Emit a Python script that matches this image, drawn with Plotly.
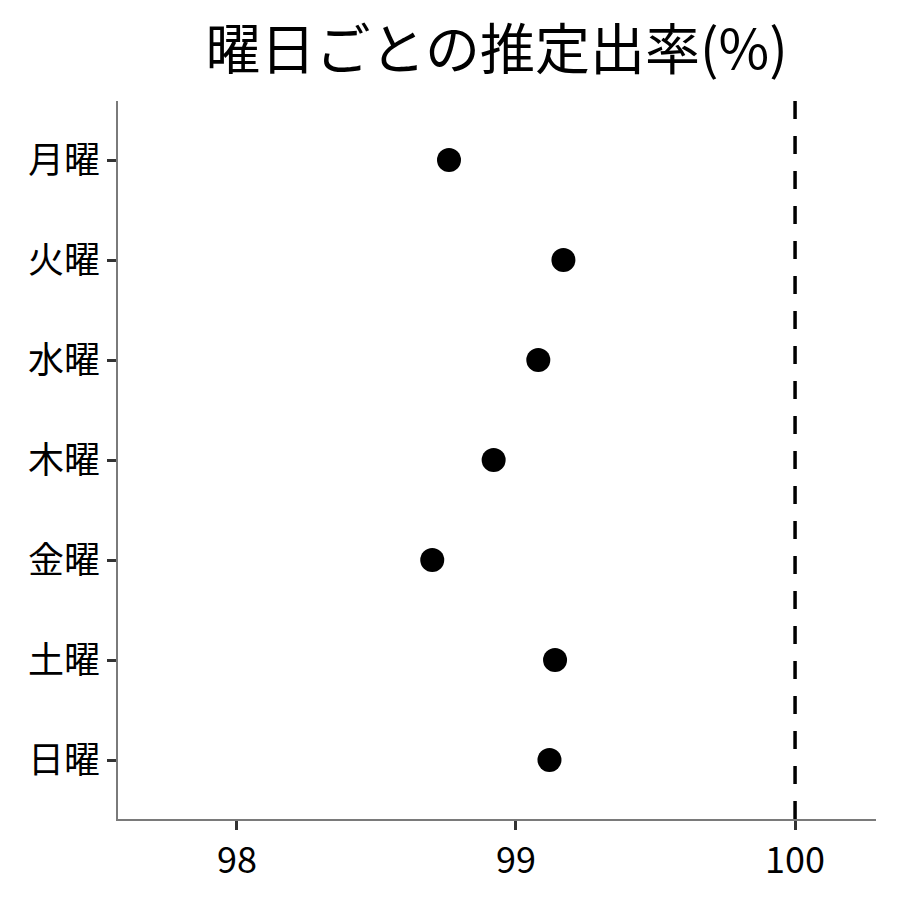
import plotly.graph_objects as go

days = ["月曜", "火曜", "水曜", "木曜", "金曜", "土曜", "日曜"]
rates = [98.76, 99.17, 99.08, 98.92, 98.70, 99.14, 99.12]
ref_value = 100
x_ticks = [98, 99, 100]

fig = go.Figure()

fig.add_trace(go.Scatter(
    x=rates, y=days, mode="markers",
    marker=dict(color="black", size=24),
    showlegend=False,
))

# reference line at 100%
fig.add_vline(x=ref_value, line=dict(color="black", width=3.5, dash="18px,17px"))

fig.update_layout(
    width=900, height=900,
    paper_bgcolor="white", plot_bgcolor="white",
    margin=dict(l=110, r=32, t=93, b=89),
    font=dict(family="Noto Sans CJK JP", color="black", size=36),
    title=dict(text="曜日ごとの推定出率(%)", x=0.543, xanchor="center",
               y=0.954, yanchor="middle", font=dict(size=55)),
)
fig.update_xaxes(
    range=[97.574, 100.29], tickvals=x_ticks, showgrid=False, zeroline=False,
    showline=True, linecolor="#7a7a7a", linewidth=1.5,
    ticks="outside", ticklen=9, tickwidth=3, tickcolor="#333333",
    tickfont=dict(size=36),
)
fig.update_yaxes(
    categoryorder="array", categoryarray=days,
    range=[6.59, -0.59], showgrid=False, zeroline=False,
    showline=True, linecolor="#7a7a7a", linewidth=1.5,
    ticks="outside", ticklen=9, tickwidth=3, tickcolor="#333333",
    tickfont=dict(size=36),
)

fig.write_html("out.html")
